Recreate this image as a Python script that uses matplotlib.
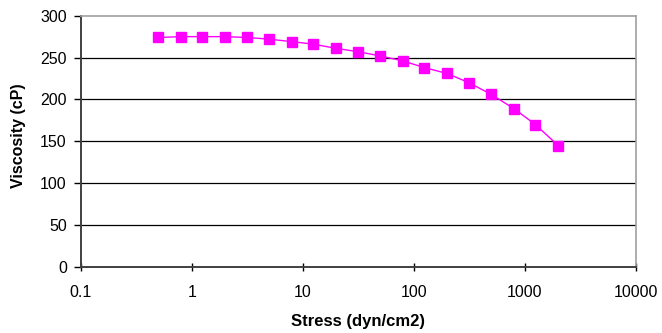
import matplotlib
matplotlib.use("Agg")
import matplotlib.pyplot as plt
from matplotlib.ticker import FixedLocator, FixedFormatter, NullLocator

stress = [0.5, 0.8, 1.25, 2, 3.15, 5, 8, 12.5, 20, 31.5, 50, 80, 125, 200, 315, 500, 800, 1250, 2000]
viscosity = [274, 275, 275, 275, 274, 272, 269, 266, 261, 257, 252, 246, 238, 231, 220, 206, 189, 170, 145]

x_ticks = [0.1, 1, 10, 100, 1000, 10000]
x_tick_labels = ["0.1", "1", "10", "100", "1000", "10000"]
y_ticks = [0, 50, 100, 150, 200, 250, 300]

plt.rcParams['font.family'] = ['Liberation Sans', 'DejaVu Sans']

fig = plt.figure(figsize=(6.62, 3.33), dpi=100)
ax = fig.add_axes([80.7/662, 1 - 267/333, (635.7 - 80.7)/662, (267 - 15.7)/333])

ax.set_xscale('log')
ax.set_xlim(0.1, 10000)
ax.set_ylim(0, 300)

for v in y_ticks[1:-1]:
    ax.axhline(v, color='black', lw=0.9, zorder=1)

ax.plot(stress, viscosity, color='#ff00ff', lw=1.0, marker='s', markersize=7,
        markerfacecolor='#ff00ff', markeredgecolor='#ff00ff', zorder=3)

ax.xaxis.set_major_locator(FixedLocator(x_ticks))
ax.xaxis.set_major_formatter(FixedFormatter(x_tick_labels))
ax.xaxis.set_minor_locator(NullLocator())
ax.set_yticks(y_ticks)

ax.tick_params(axis='x', direction='inout', length=6, width=1, pad=10, labelsize=11.5, colors='black')
ax.tick_params(axis='y', direction='out', length=5, width=1, pad=5, labelsize=11.5, colors='black')

for s in ['left', 'bottom']:
    ax.spines[s].set_color('#404040')
    ax.spines[s].set_linewidth(1.4)
for s in ['top', 'right']:
    ax.spines[s].set_color('#a0a0a0')
    ax.spines[s].set_linewidth(1.2)

ax.set_xlabel('Stress (dyn/cm2)', fontsize=12, fontweight='bold', labelpad=10)
ax.set_ylabel('Viscosity (cP)', fontsize=11.5, fontweight='bold')
ax.yaxis.set_label_coords(-0.098, 0.523)

fig.savefig('out.png', dpi=100)
